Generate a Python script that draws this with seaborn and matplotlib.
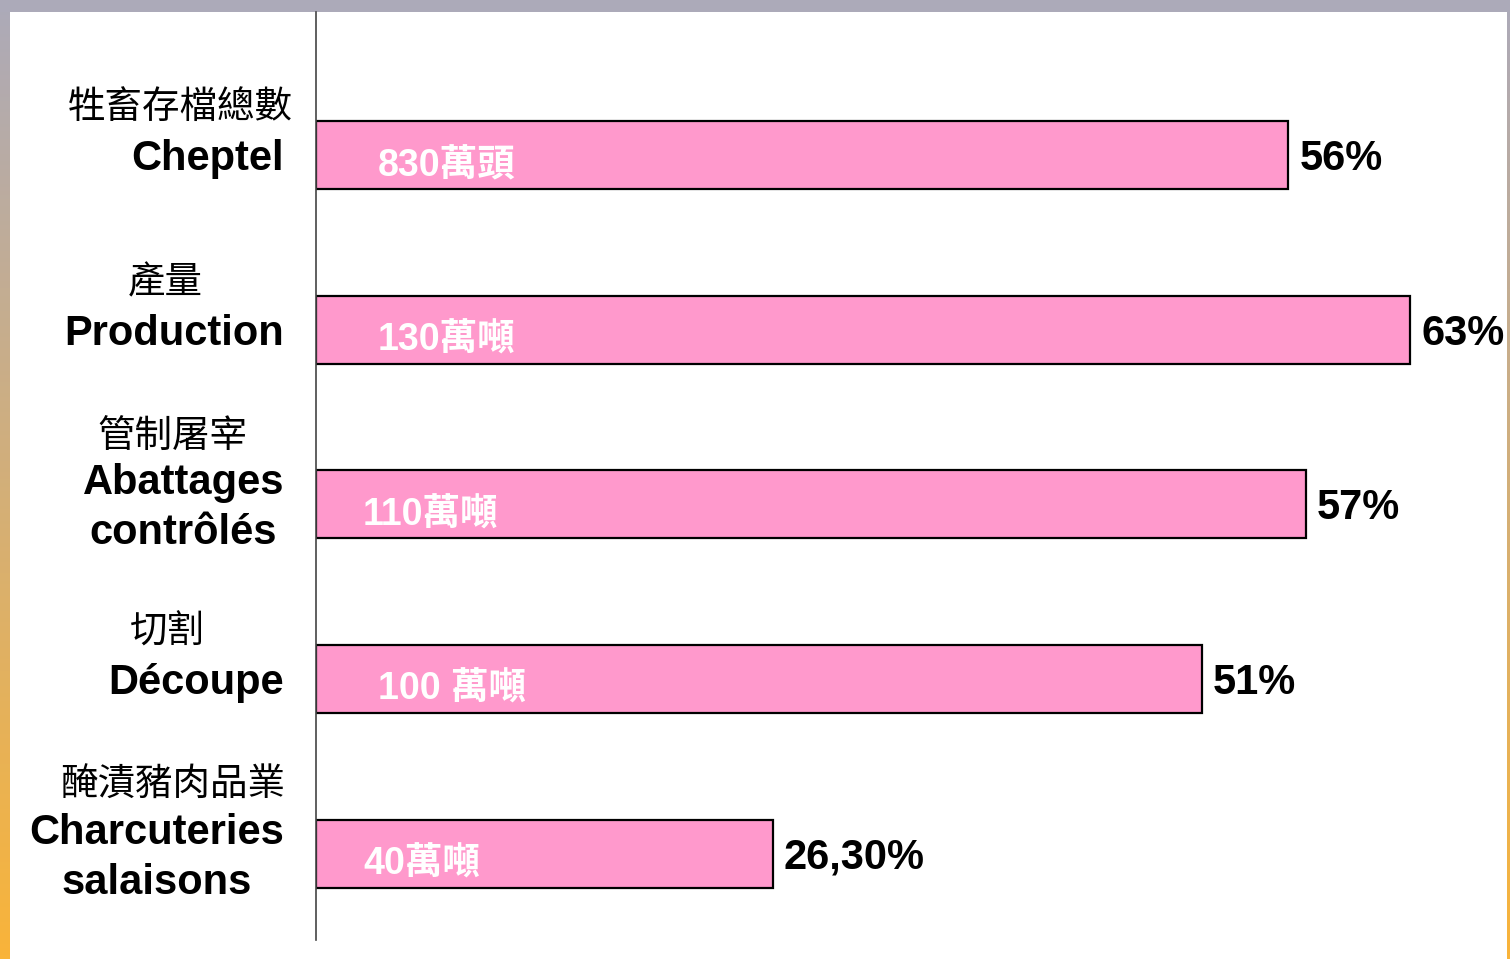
import numpy as np
import pandas as pd
import matplotlib
matplotlib.use("Agg")
import matplotlib.pyplot as plt
import matplotlib.transforms as mtransforms
from matplotlib.colors import LinearSegmentedColormap
import seaborn as sns

# Datos
etiquetas_zh = ["牲畜存檔總數", "產量", "管制屠宰", "切割", "醃漬豬肉品業"]
etiquetas_fr = ["Cheptel", "Production", "Abattages\ncontrôlés", "Découpe", "Charcuteries\nsalaisons"]
porcentajes = [56, 63, 57, 51, 26.3]
textos_pct = ["56%", "63%", "57%", "51%", "26,30%"]
textos_vol = ["830萬頭", "130萬噸", "110萬噸", "100 萬噸", "40萬噸"]

df = pd.DataFrame({"cat": etiquetas_fr, "pct": porcentajes})

sns.set_style("white")
plt.rcParams["font.family"] = ["Liberation Sans", "Noto Sans CJK TC", "DejaVu Sans"]

W, H = 1510, 959
fig = plt.figure(figsize=(W / 100, H / 100), dpi=100)
fig.patch.set_facecolor("white")

# marco: banda gris arriba, degradado a la izquierda y derecha
gris = "#ACAAB9"
naranja = "#F9B43A"
cmap = LinearSegmentedColormap.from_list("marco", [gris, naranja])
grad = np.linspace(0, 1, 256).reshape(-1, 1)
for x0, w in [(0, 10), (1507, 3)]:
    axg = fig.add_axes([x0 / W, 0, w / W, 1])
    axg.imshow(grad, aspect="auto", cmap=cmap)
    axg.axis("off")
axt = fig.add_axes([0, 1 - 12 / H, 1, 12 / H])
axt.set_facecolor(gris)
axt.set_xticks([])
axt.set_yticks([])
for s in axt.spines.values():
    s.set_visible(False)

# grafico de barras
ax = fig.add_axes([316 / W, 19 / H, (1507 - 316) / W, (940 - 12) / H])
sns.barplot(data=df, y="cat", x="pct", orient="h", color="#FF99CC",
            saturation=1, width=0.39, edgecolor="black", linewidth=1.6, ax=ax)

escala = 1094 / 63  # px por %
ax.set_xlim(0, (1507 - 316) / escala)
ax.set_ylim(4.495, -0.819)
ax.set_xticks([])
ax.set_yticks([])
ax.set_xlabel("")
ax.set_ylabel("")
for s in ["top", "right", "bottom"]:
    ax.spines[s].set_visible(False)
ax.spines["left"].set_color("#444444")
ax.spines["left"].set_linewidth(1.2)

desp_vol = [62, 62, 47, 62, 47]
for i, (p, tp, tv) in enumerate(zip(porcentajes, textos_pct, textos_vol)):
    ax.annotate(tp, xy=(p, i), xytext=(8, -3), textcoords="offset points",
                ha="left", va="center", fontsize=30, fontweight="bold",
                color="black")
    ax.annotate(tv, xy=(0, i), xytext=(desp_vol[i] * 0.72, -8),
                textcoords="offset points", ha="left", va="center",
                fontsize=27, fontweight="bold", color="white",
                family=["Liberation Sans", "Noto Sans CJK TC"])

# etiquetas de categorias
trans = mtransforms.blended_transform_factory(fig.transFigure, ax.transData)
centros_zh = [180, 165, 172, 167, 173]
for i, (zh, fr) in enumerate(zip(etiquetas_zh, etiquetas_fr)):
    n = fr.count("\n") + 1
    ax.annotate(fr, xy=(284 / W, i), xycoords=trans, xytext=(0, -3),
                textcoords="offset points", ha="right", va="center",
                multialignment="center", fontsize=30, fontweight="bold",
                linespacing=1.32, color="black")
    ax.annotate(zh, xy=(centros_zh[i] / W, i), xycoords=trans,
                xytext=(0, 34 + 15 * (n - 1)), textcoords="offset points",
                ha="center", va="center", fontsize=27, color="black",
                family=["Noto Sans CJK TC"])

fig.savefig("out.png", dpi=100)
